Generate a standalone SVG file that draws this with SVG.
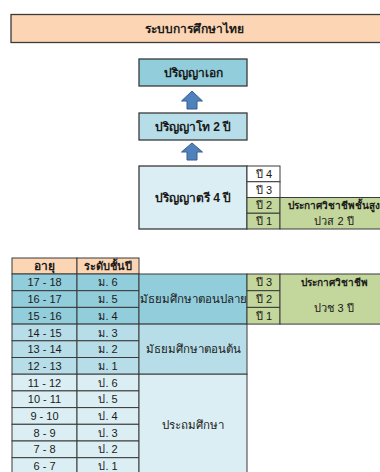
<svg xmlns="http://www.w3.org/2000/svg" width="380" height="472" viewBox="0 0 380 472">
<style>
text{font-family:"Liberation Sans","DejaVu Sans","Noto Sans",sans-serif;font-size:11px;fill:#1a1a1a;text-anchor:middle;dominant-baseline:central}
.b{font-weight:bold}
.big{font-size:12px}
.lvl{font-size:11.5px}
.sm{font-size:10px}
.cell{stroke:#3a3a3a;stroke-width:1}
.box{stroke:#3a3a3a;stroke-width:1.3}
.peach{fill:#FCD5B4}
.c1{fill:#92CDDC}
.c2{fill:#B7DEE8}
.c3{fill:#DAEEF3}
.g{fill:#C3D69B}
.w{fill:#FFFFFF}
.arrow{fill:#4F81BD;stroke:#385D8A;stroke-width:1}
</style>
<rect width="380" height="472" fill="#FFFFFF"/>
<g id="title">
<rect class="box peach" x="11" y="14.5" width="376" height="28"/>
<text class="b big" x="194" y="29">ระบบการศึกษาไทย</text>
</g>
<g id="phd">
<rect class="box c1" x="139" y="59" width="108" height="27"/>
<text class="b big" x="193" y="72.5">ปริญญาเอก</text>
</g>
<g id="master">
<rect class="box c2" x="139" y="113" width="108" height="27"/>
<text class="b big" x="193" y="126.5">ปริญญาโท 2 ปี</text>
</g>
<g id="connectors">
<path class="arrow" d="M192,91 L202.5,101 L197,101 L197,109 L187,109 L187,101 L181.5,101 Z"/>
<path class="arrow" d="M192,143 L202.5,152 L197,152 L197,160 L187,160 L187,152 L181.5,152 Z"/>
</g>
<g id="bachelor">
<rect class="box c3" x="139" y="166" width="108" height="63"/>
<text class="b big" x="193" y="197.5">ปริญญาตรี 4 ปี</text>
<rect class="cell w" x="247" y="166" width="33" height="15.75"/>
<rect class="cell w" x="247" y="181.75" width="33" height="15.75"/>
<rect class="cell g" x="247" y="197.5" width="33" height="15.75"/>
<rect class="cell g" x="247" y="213.25" width="33" height="15.75"/>
<text x="264" y="174">ปี 4</text>
<text x="264" y="189.6">ปี 3</text>
<text x="264" y="205.4">ปี 2</text>
<text x="264" y="221.1">ปี 1</text>
</g>
<g id="high-voc">
<rect class="cell g" x="280" y="197.5" width="110" height="31.5"/>
<text class="b sm" x="334" y="205.4">ประกาศวิชาชีพชั้นสูง</text>
<text x="334" y="221.1">ปวส 2 ปี</text>
</g>
<g id="table-header">
<rect class="cell peach" x="12" y="258" width="65" height="16"/>
<rect class="cell peach" x="77" y="258" width="62" height="16"/>
<text class="b big" x="44.5" y="266">อายุ</text>
<text class="b" x="108" y="266">ระดับชั้นปี</text>
</g>
<g id="rows">
<rect class="cell c1" x="12" y="274" width="65" height="16.7"/><rect class="cell c1" x="77" y="274" width="62" height="16.7"/>
<rect class="cell c1" x="12" y="290.7" width="65" height="16.7"/><rect class="cell c1" x="77" y="290.7" width="62" height="16.7"/>
<rect class="cell c1" x="12" y="307.4" width="65" height="16.7"/><rect class="cell c1" x="77" y="307.4" width="62" height="16.7"/>
<rect class="cell c2" x="12" y="324.1" width="65" height="16.7"/><rect class="cell c2" x="77" y="324.1" width="62" height="16.7"/>
<rect class="cell c2" x="12" y="340.8" width="65" height="16.7"/><rect class="cell c2" x="77" y="340.8" width="62" height="16.7"/>
<rect class="cell c2" x="12" y="357.5" width="65" height="16.7"/><rect class="cell c2" x="77" y="357.5" width="62" height="16.7"/>
<rect class="cell c3" x="12" y="374.2" width="65" height="16.7"/><rect class="cell c3" x="77" y="374.2" width="62" height="16.7"/>
<rect class="cell c3" x="12" y="390.9" width="65" height="16.7"/><rect class="cell c3" x="77" y="390.9" width="62" height="16.7"/>
<rect class="cell c3" x="12" y="407.6" width="65" height="16.7"/><rect class="cell c3" x="77" y="407.6" width="62" height="16.7"/>
<rect class="cell c3" x="12" y="424.3" width="65" height="16.7"/><rect class="cell c3" x="77" y="424.3" width="62" height="16.7"/>
<rect class="cell c3" x="12" y="441" width="65" height="16.7"/><rect class="cell c3" x="77" y="441" width="62" height="16.7"/>
<rect class="cell c3" x="12" y="457.7" width="65" height="16.7"/><rect class="cell c3" x="77" y="457.7" width="62" height="16.7"/>
<text x="44.5" y="282.4">17 - 18</text><text x="108" y="282.4">ม. 6</text>
<text x="44.5" y="299.1">16 - 17</text><text x="108" y="299.1">ม. 5</text>
<text x="44.5" y="315.8">15 - 16</text><text x="108" y="315.8">ม. 4</text>
<text x="44.5" y="332.5">14 - 15</text><text x="108" y="332.5">ม. 3</text>
<text x="44.5" y="349.2">13 - 14</text><text x="108" y="349.2">ม. 2</text>
<text x="44.5" y="365.9">12 - 13</text><text x="108" y="365.9">ม. 1</text>
<text x="44.5" y="382.6">11 - 12</text><text x="108" y="382.6">ป. 6</text>
<text x="44.5" y="399.3">10 - 11</text><text x="108" y="399.3">ป. 5</text>
<text x="44.5" y="416">9 - 10</text><text x="108" y="416">ป. 4</text>
<text x="44.5" y="432.7">8 - 9</text><text x="108" y="432.7">ป. 3</text>
<text x="44.5" y="449.4">7 - 8</text><text x="108" y="449.4">ป. 2</text>
<text x="44.5" y="466.1">6 - 7</text><text x="108" y="466.1">ป. 1</text>
</g>
<g id="upper-secondary">
<rect class="cell c1" x="139" y="274" width="108" height="50.1"/>
<text class="lvl" x="193" y="299">มัธยมศึกษาตอนปลาย</text>
</g>
<g id="lower-secondary">
<rect class="cell c2" x="139" y="324.1" width="108" height="50.1"/>
<text class="lvl" x="193" y="349.2">มัธยมศึกษาตอนต้น</text>
</g>
<g id="primary">
<rect class="cell c3" x="139" y="374.2" width="108" height="100.2"/>
<text class="lvl" x="193" y="425">ประถมศึกษา</text>
</g>
<g id="voc">
<rect class="cell g" x="247" y="274" width="33" height="16.7"/>
<rect class="cell g" x="247" y="290.7" width="33" height="16.7"/>
<rect class="cell g" x="247" y="307.4" width="33" height="16.7"/>
<text x="264" y="282.4">ปี 3</text>
<text x="264" y="299.1">ปี 2</text>
<text x="264" y="315.8">ปี 1</text>
<rect class="cell g" x="280" y="274" width="110" height="50.1"/>
<text class="b sm" x="334" y="282.4">ประกาศวิชาชีพ</text>
<text x="334" y="307.5">ปวช 3 ปี</text>
</g>
</svg>
